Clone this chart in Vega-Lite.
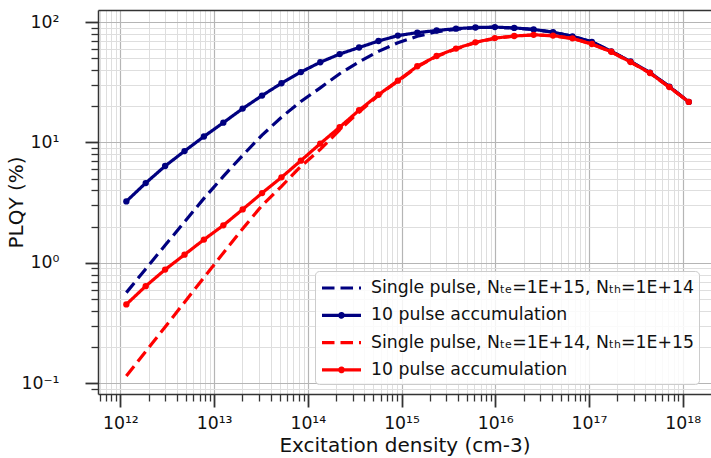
{
  "$schema": "https://vega.github.io/schema/vega-lite/v6.json",
  "width": 613,
  "height": 384,
  "autosize": {"type": "none"},
  "padding": {"left": 98, "top": 10, "right": 0, "bottom": 64},
  "background": "white",
  "config": {
    "font": "DejaVu Sans",
    "view": {"stroke": null},
    "axis": {"domainColor": "#333333", "domainWidth": 1.5, "tickColor": "#333333", "labelColor": "#111111", "titleColor": "#111111", "labelFont": "DejaVu Sans", "titleFont": "DejaVu Sans", "titleFontWeight": "normal"}
  },
  "datasets": {
    "curves": [
      {"density": 1.159e12, "plqy": 0.566, "series": "Single pulse, Nte=1E+15, Nth=1E+14"},
      {"density": 1.866e12, "plqy": 0.891, "series": "Single pulse, Nte=1E+15, Nth=1E+14"},
      {"density": 3.006e12, "plqy": 1.40, "series": "Single pulse, Nte=1E+15, Nth=1E+14"},
      {"density": 4.842e12, "plqy": 2.19, "series": "Single pulse, Nte=1E+15, Nth=1E+14"},
      {"density": 7.798e12, "plqy": 3.43, "series": "Single pulse, Nte=1E+15, Nth=1E+14"},
      {"density": 1.256e13, "plqy": 5.23, "series": "Single pulse, Nte=1E+15, Nth=1E+14"},
      {"density": 2.018e13, "plqy": 7.81, "series": "Single pulse, Nte=1E+15, Nth=1E+14"},
      {"density": 3.251e13, "plqy": 11.5, "series": "Single pulse, Nte=1E+15, Nth=1E+14"},
      {"density": 5.236e13, "plqy": 16.2, "series": "Single pulse, Nte=1E+15, Nth=1E+14"},
      {"density": 8.433e13, "plqy": 21.9, "series": "Single pulse, Nte=1E+15, Nth=1E+14"},
      {"density": 1.358e14, "plqy": 28.4, "series": "Single pulse, Nte=1E+15, Nth=1E+14"},
      {"density": 2.188e14, "plqy": 37.2, "series": "Single pulse, Nte=1E+15, Nth=1E+14"},
      {"density": 3.524e14, "plqy": 46.7, "series": "Single pulse, Nte=1E+15, Nth=1E+14"},
      {"density": 5.675e14, "plqy": 57.1, "series": "Single pulse, Nte=1E+15, Nth=1E+14"},
      {"density": 9.141e14, "plqy": 67.2, "series": "Single pulse, Nte=1E+15, Nth=1E+14"},
      {"density": 1.472e15, "plqy": 76.1, "series": "Single pulse, Nte=1E+15, Nth=1E+14"},
      {"density": 2.366e15, "plqy": 82.9, "series": "Single pulse, Nte=1E+15, Nth=1E+14"},
      {"density": 3.811e15, "plqy": 87.0, "series": "Single pulse, Nte=1E+15, Nth=1E+14"},
      {"density": 6.138e15, "plqy": 89.6, "series": "Single pulse, Nte=1E+15, Nth=1E+14"},
      {"density": 9.886e15, "plqy": 90.5, "series": "Single pulse, Nte=1E+15, Nth=1E+14"},
      {"density": 1.592e16, "plqy": 89.2, "series": "Single pulse, Nte=1E+15, Nth=1E+14"},
      {"density": 2.564e16, "plqy": 86.7, "series": "Single pulse, Nte=1E+15, Nth=1E+14"},
      {"density": 4.130e16, "plqy": 82.3, "series": "Single pulse, Nte=1E+15, Nth=1E+14"},
      {"density": 6.653e16, "plqy": 76.0, "series": "Single pulse, Nte=1E+15, Nth=1E+14"},
      {"density": 1.072e17, "plqy": 68.4, "series": "Single pulse, Nte=1E+15, Nth=1E+14"},
      {"density": 1.726e17, "plqy": 57.0, "series": "Single pulse, Nte=1E+15, Nth=1E+14"},
      {"density": 2.773e17, "plqy": 46.9, "series": "Single pulse, Nte=1E+15, Nth=1E+14"},
      {"density": 4.467e17, "plqy": 37.9, "series": "Single pulse, Nte=1E+15, Nth=1E+14"},
      {"density": 7.194e17, "plqy": 29.0, "series": "Single pulse, Nte=1E+15, Nth=1E+14"},
      {"density": 1.159e18, "plqy": 21.7, "series": "Single pulse, Nte=1E+15, Nth=1E+14"},

      {"density": 1.159e12, "plqy": 3.24, "series": "10 pulse accumulation, Nte=1E+15"},
      {"density": 1.866e12, "plqy": 4.6, "series": "10 pulse accumulation, Nte=1E+15"},
      {"density": 3.006e12, "plqy": 6.37, "series": "10 pulse accumulation, Nte=1E+15"},
      {"density": 4.842e12, "plqy": 8.48, "series": "10 pulse accumulation, Nte=1E+15"},
      {"density": 7.798e12, "plqy": 11.2, "series": "10 pulse accumulation, Nte=1E+15"},
      {"density": 1.256e13, "plqy": 14.6, "series": "10 pulse accumulation, Nte=1E+15"},
      {"density": 2.018e13, "plqy": 19.1, "series": "10 pulse accumulation, Nte=1E+15"},
      {"density": 3.251e13, "plqy": 24.5, "series": "10 pulse accumulation, Nte=1E+15"},
      {"density": 5.236e13, "plqy": 31.0, "series": "10 pulse accumulation, Nte=1E+15"},
      {"density": 8.433e13, "plqy": 38.4, "series": "10 pulse accumulation, Nte=1E+15"},
      {"density": 1.358e14, "plqy": 46.3, "series": "10 pulse accumulation, Nte=1E+15"},
      {"density": 2.188e14, "plqy": 54.2, "series": "10 pulse accumulation, Nte=1E+15"},
      {"density": 3.524e14, "plqy": 61.4, "series": "10 pulse accumulation, Nte=1E+15"},
      {"density": 5.675e14, "plqy": 69.5, "series": "10 pulse accumulation, Nte=1E+15"},
      {"density": 9.141e14, "plqy": 77.1, "series": "10 pulse accumulation, Nte=1E+15"},
      {"density": 1.472e15, "plqy": 81.6, "series": "10 pulse accumulation, Nte=1E+15"},
      {"density": 2.366e15, "plqy": 85.0, "series": "10 pulse accumulation, Nte=1E+15"},
      {"density": 3.811e15, "plqy": 88.1, "series": "10 pulse accumulation, Nte=1E+15"},
      {"density": 6.138e15, "plqy": 90.0, "series": "10 pulse accumulation, Nte=1E+15"},
      {"density": 9.886e15, "plqy": 90.7, "series": "10 pulse accumulation, Nte=1E+15"},
      {"density": 1.592e16, "plqy": 89.3, "series": "10 pulse accumulation, Nte=1E+15"},
      {"density": 2.564e16, "plqy": 86.8, "series": "10 pulse accumulation, Nte=1E+15"},
      {"density": 4.130e16, "plqy": 82.4, "series": "10 pulse accumulation, Nte=1E+15"},
      {"density": 6.653e16, "plqy": 76.1, "series": "10 pulse accumulation, Nte=1E+15"},
      {"density": 1.072e17, "plqy": 68.5, "series": "10 pulse accumulation, Nte=1E+15"},
      {"density": 1.726e17, "plqy": 57.1, "series": "10 pulse accumulation, Nte=1E+15"},
      {"density": 2.773e17, "plqy": 47.0, "series": "10 pulse accumulation, Nte=1E+15"},
      {"density": 4.467e17, "plqy": 38.0, "series": "10 pulse accumulation, Nte=1E+15"},
      {"density": 7.194e17, "plqy": 29.1, "series": "10 pulse accumulation, Nte=1E+15"},
      {"density": 1.159e18, "plqy": 21.7, "series": "10 pulse accumulation, Nte=1E+15"},

      {"density": 1.159e12, "plqy": 0.115, "series": "Single pulse, Nte=1E+14, Nth=1E+15"},
      {"density": 1.866e12, "plqy": 0.184, "series": "Single pulse, Nte=1E+14, Nth=1E+15"},
      {"density": 3.006e12, "plqy": 0.294, "series": "Single pulse, Nte=1E+14, Nth=1E+15"},
      {"density": 4.842e12, "plqy": 0.471, "series": "Single pulse, Nte=1E+14, Nth=1E+15"},
      {"density": 7.798e12, "plqy": 0.754, "series": "Single pulse, Nte=1E+14, Nth=1E+15"},
      {"density": 1.256e13, "plqy": 1.21, "series": "Single pulse, Nte=1E+14, Nth=1E+15"},
      {"density": 2.018e13, "plqy": 1.92, "series": "Single pulse, Nte=1E+14, Nth=1E+15"},
      {"density": 3.251e13, "plqy": 3.00, "series": "Single pulse, Nte=1E+14, Nth=1E+15"},
      {"density": 5.236e13, "plqy": 4.32, "series": "Single pulse, Nte=1E+14, Nth=1E+15"},
      {"density": 8.433e13, "plqy": 6.33, "series": "Single pulse, Nte=1E+14, Nth=1E+15"},
      {"density": 1.358e14, "plqy": 8.76, "series": "Single pulse, Nte=1E+14, Nth=1E+15"},
      {"density": 2.188e14, "plqy": 12.7, "series": "Single pulse, Nte=1E+14, Nth=1E+15"},
      {"density": 3.524e14, "plqy": 17.9, "series": "Single pulse, Nte=1E+14, Nth=1E+15"},
      {"density": 5.675e14, "plqy": 24.6, "series": "Single pulse, Nte=1E+14, Nth=1E+15"},
      {"density": 9.141e14, "plqy": 32.3, "series": "Single pulse, Nte=1E+14, Nth=1E+15"},
      {"density": 1.472e15, "plqy": 42.5, "series": "Single pulse, Nte=1E+14, Nth=1E+15"},
      {"density": 2.366e15, "plqy": 51.8, "series": "Single pulse, Nte=1E+14, Nth=1E+15"},
      {"density": 3.811e15, "plqy": 59.8, "series": "Single pulse, Nte=1E+14, Nth=1E+15"},
      {"density": 6.138e15, "plqy": 67.4, "series": "Single pulse, Nte=1E+14, Nth=1E+15"},
      {"density": 9.886e15, "plqy": 73.2, "series": "Single pulse, Nte=1E+14, Nth=1E+15"},
      {"density": 1.592e16, "plqy": 76.2, "series": "Single pulse, Nte=1E+14, Nth=1E+15"},
      {"density": 2.564e16, "plqy": 78.0, "series": "Single pulse, Nte=1E+14, Nth=1E+15"},
      {"density": 4.130e16, "plqy": 76.8, "series": "Single pulse, Nte=1E+14, Nth=1E+15"},
      {"density": 6.653e16, "plqy": 72.9, "series": "Single pulse, Nte=1E+14, Nth=1E+15"},
      {"density": 1.072e17, "plqy": 65.4, "series": "Single pulse, Nte=1E+14, Nth=1E+15"},
      {"density": 1.726e17, "plqy": 56.4, "series": "Single pulse, Nte=1E+14, Nth=1E+15"},
      {"density": 2.773e17, "plqy": 46.4, "series": "Single pulse, Nte=1E+14, Nth=1E+15"},
      {"density": 4.467e17, "plqy": 37.6, "series": "Single pulse, Nte=1E+14, Nth=1E+15"},
      {"density": 7.194e17, "plqy": 28.7, "series": "Single pulse, Nte=1E+14, Nth=1E+15"},
      {"density": 1.159e18, "plqy": 21.7, "series": "Single pulse, Nte=1E+14, Nth=1E+15"},

      {"density": 1.159e12, "plqy": 0.452, "series": "10 pulse accumulation, Nte=1E+14"},
      {"density": 1.866e12, "plqy": 0.641, "series": "10 pulse accumulation, Nte=1E+14"},
      {"density": 3.006e12, "plqy": 0.879, "series": "10 pulse accumulation, Nte=1E+14"},
      {"density": 4.842e12, "plqy": 1.17, "series": "10 pulse accumulation, Nte=1E+14"},
      {"density": 7.798e12, "plqy": 1.56, "series": "10 pulse accumulation, Nte=1E+14"},
      {"density": 1.256e13, "plqy": 2.05, "series": "10 pulse accumulation, Nte=1E+14"},
      {"density": 2.018e13, "plqy": 2.78, "series": "10 pulse accumulation, Nte=1E+14"},
      {"density": 3.251e13, "plqy": 3.80, "series": "10 pulse accumulation, Nte=1E+14"},
      {"density": 5.236e13, "plqy": 5.13, "series": "10 pulse accumulation, Nte=1E+14"},
      {"density": 8.433e13, "plqy": 7.06, "series": "10 pulse accumulation, Nte=1E+14"},
      {"density": 1.358e14, "plqy": 9.78, "series": "10 pulse accumulation, Nte=1E+14"},
      {"density": 2.188e14, "plqy": 13.4, "series": "10 pulse accumulation, Nte=1E+14"},
      {"density": 3.524e14, "plqy": 18.5, "series": "10 pulse accumulation, Nte=1E+14"},
      {"density": 5.675e14, "plqy": 24.9, "series": "10 pulse accumulation, Nte=1E+14"},
      {"density": 9.141e14, "plqy": 32.6, "series": "10 pulse accumulation, Nte=1E+14"},
      {"density": 1.472e15, "plqy": 42.9, "series": "10 pulse accumulation, Nte=1E+14"},
      {"density": 2.366e15, "plqy": 52.2, "series": "10 pulse accumulation, Nte=1E+14"},
      {"density": 3.811e15, "plqy": 60.2, "series": "10 pulse accumulation, Nte=1E+14"},
      {"density": 6.138e15, "plqy": 67.8, "series": "10 pulse accumulation, Nte=1E+14"},
      {"density": 9.886e15, "plqy": 73.5, "series": "10 pulse accumulation, Nte=1E+14"},
      {"density": 1.592e16, "plqy": 76.5, "series": "10 pulse accumulation, Nte=1E+14"},
      {"density": 2.564e16, "plqy": 78.3, "series": "10 pulse accumulation, Nte=1E+14"},
      {"density": 4.130e16, "plqy": 77.1, "series": "10 pulse accumulation, Nte=1E+14"},
      {"density": 6.653e16, "plqy": 73.2, "series": "10 pulse accumulation, Nte=1E+14"},
      {"density": 1.072e17, "plqy": 65.7, "series": "10 pulse accumulation, Nte=1E+14"},
      {"density": 1.726e17, "plqy": 56.6, "series": "10 pulse accumulation, Nte=1E+14"},
      {"density": 2.773e17, "plqy": 46.5, "series": "10 pulse accumulation, Nte=1E+14"},
      {"density": 4.467e17, "plqy": 37.7, "series": "10 pulse accumulation, Nte=1E+14"},
      {"density": 7.194e17, "plqy": 28.8, "series": "10 pulse accumulation, Nte=1E+14"},
      {"density": 1.159e18, "plqy": 21.7, "series": "10 pulse accumulation, Nte=1E+14"}
    ]
  },
  "data": {"name": "curves"},
  "encoding": {
    "x": {
      "field": "density", "type": "quantitative",
      "scale": {"type": "log", "domain": [5.78e11, 2.0e18], "nice": false},
      "axis": {
        "orient": "bottom",
        "title": "Excitation density (cm-3)",
        "titleFontSize": 20,
        "titlePadding": 4,
        "labelFontSize": 17.3,
        "labelPadding": 7,
        "values": [6e11, 7e11, 8e11, 9e11, 1e12, 2e12, 3e12, 4e12, 5e12, 6e12, 7e12, 8e12, 9e12, 1e13, 2e13, 3e13, 4e13, 5e13, 6e13, 7e13, 8e13, 9e13, 1e14, 2e14, 3e14, 4e14, 5e14, 6e14, 7e14, 8e14, 9e14, 1e15, 2e15, 3e15, 4e15, 5e15, 6e15, 7e15, 8e15, 9e15, 1e16, 2e16, 3e16, 4e16, 5e16, 6e16, 7e16, 8e16, 9e16, 1e17, 2e17, 3e17, 4e17, 5e17, 6e17, 7e17, 8e17, 9e17, 1e18],
        "labelExpr": "datum.value == 1e12 ? '10¹²' : datum.value == 1e13 ? '10¹³' : datum.value == 1e14 ? '10¹⁴' : datum.value == 1e15 ? '10¹⁵' : datum.value == 1e16 ? '10¹⁶' : datum.value == 1e17 ? '10¹⁷' : datum.value == 1e18 ? '10¹⁸' : ''",
        "grid": true,
        "gridColor": {"condition": {"test": "indexof([1e12,1e13,1e14,1e15,1e16,1e17,1e18], datum.value) >= 0", "value": "#b5b5b5"}, "value": "#dedede"},
        "gridWidth": {"condition": {"test": "indexof([1e12,1e13,1e14,1e15,1e16,1e17,1e18], datum.value) >= 0", "value": 1.2}, "value": 1},
        "tickSize": {"condition": {"test": "indexof([1e12,1e13,1e14,1e15,1e16,1e17,1e18], datum.value) >= 0", "value": 13}, "value": 7},
        "tickWidth": {"condition": {"test": "indexof([1e12,1e13,1e14,1e15,1e16,1e17,1e18], datum.value) >= 0", "value": 1.8}, "value": 1.3},
        "labelFlush": false,
        "labelOverlap": false
      }
    },
    "y": {
      "field": "plqy", "type": "quantitative",
      "scale": {"type": "log", "domain": [0.0815, 125.8], "nice": false},
      "axis": {
        "title": "PLQY (%)",
        "titleFontSize": 20,
        "titlePadding": -6,
        "labelFontSize": 17.3,
        "labelPadding": 26,
        "values": [0.09, 0.1, 0.2, 0.3, 0.4, 0.5, 0.6, 0.7, 0.8, 0.9, 1, 2, 3, 4, 5, 6, 7, 8, 9, 10, 20, 30, 40, 50, 60, 70, 80, 90, 100],
        "labelExpr": "datum.value == 0.1 ? '10⁻¹' : datum.value == 1 ? '10⁰' : datum.value == 10 ? '10¹' : datum.value == 100 ? '10²' : ''",
        "grid": true,
        "gridColor": {"condition": {"test": "indexof([0.1,1,10,100], datum.value) >= 0", "value": "#b5b5b5"}, "value": "#dedede"},
        "gridWidth": {"condition": {"test": "indexof([0.1,1,10,100], datum.value) >= 0", "value": 1.2}, "value": 1},
        "tickSize": {"condition": {"test": "indexof([0.1,1,10,100], datum.value) >= 0", "value": 13}, "value": 7},
        "tickWidth": {"condition": {"test": "indexof([0.1,1,10,100], datum.value) >= 0", "value": 1.8}, "value": 1.3},
        "labelFlush": false,
        "labelOverlap": false
      }
    },
    "color": {
      "field": "series", "type": "nominal",
      "scale": {
        "domain": ["Single pulse, Nte=1E+15, Nth=1E+14", "10 pulse accumulation, Nte=1E+15", "Single pulse, Nte=1E+14, Nth=1E+15", "10 pulse accumulation, Nte=1E+14"],
        "range": ["#000080", "#000080", "#ff0000", "#ff0000"]
      },
      "legend": {
        "title": null,
        "orient": "none",
        "legendX": 217,
        "legendY": 261,
        "padding": 5,
        "fillColor": "rgba(255,255,255,0.85)",
        "strokeColor": "#cccccc",
        "cornerRadius": 4,
        "labelFontSize": 17.3,
        "labelFont": "DejaVu Sans",
        "labelColor": "#111111",
        "labelLimit": 400,
        "labelOffset": 27,
        "symbolSize": 400,
        "symbolStrokeWidth": 3.2,
        "rowPadding": 6.3,
        "labelExpr": "indexof(datum.label, '10 pulse') == 0 ? '10 pulse accumulation' : replace(replace(datum.label, 'Nte', 'Nₜₑ'), 'Nth', 'Nₜₕ')",
        "encode": {
          "symbols": {
            "update": {
              "shape": {"signal": "indexof(datum.value, '10 pulse') == 0 ? 'M-1,0H2.9M0.77,0A0.18,0.18 0 1,1 1.13,0A0.18,0.18 0 1,1 0.77,0Z' : 'M-1,0H2.9'"},
              "fill": {"signal": "indexof(datum.value, '10 pulse') == 0 ? (indexof(datum.value, '1E+15') > 0 ? '#000080' : '#ff0000') : 'transparent'"}
            }
          }
        }
      }
    },
    "strokeDash": {
      "field": "series", "type": "nominal",
      "scale": {
        "domain": ["Single pulse, Nte=1E+15, Nth=1E+14", "10 pulse accumulation, Nte=1E+15", "Single pulse, Nte=1E+14, Nth=1E+15", "10 pulse accumulation, Nte=1E+14"],
        "range": [[12.5, 6], [1, 0], [12.5, 6], [1, 0]]
      }
    }
  },
  "layer": [
    {
      "transform": [{"filter": "datum.series == 'Single pulse, Nte=1E+15, Nth=1E+14'"}],
      "mark": {"type": "line", "strokeWidth": 3.2}
    },
    {
      "transform": [{"filter": "datum.series == '10 pulse accumulation, Nte=1E+15'"}],
      "mark": {"type": "line", "strokeWidth": 3.2, "point": {"filled": true, "size": 40}},
      "encoding": {
        "x": {
          "field": "density", "type": "quantitative",
          "scale": {"type": "log", "domain": [5.78e11, 2.0e18], "nice": false},
          "axis": {"orient": "top", "labels": false, "ticks": false, "grid": false, "domain": true, "title": null}
        }
      }
    },
    {
      "transform": [{"filter": "datum.series == 'Single pulse, Nte=1E+14, Nth=1E+15'"}],
      "mark": {"type": "line", "strokeWidth": 3.2},
      "encoding": {
        "x": {
          "field": "density", "type": "quantitative",
          "scale": {"type": "log", "domain": [5.78e11, 2.0e18], "nice": false},
          "axis": null
        }
      }
    },
    {
      "transform": [{"filter": "datum.series == '10 pulse accumulation, Nte=1E+14'"}],
      "mark": {"type": "line", "strokeWidth": 3.2, "point": {"filled": true, "size": 40}},
      "encoding": {
        "x": {
          "field": "density", "type": "quantitative",
          "scale": {"type": "log", "domain": [5.78e11, 2.0e18], "nice": false},
          "axis": null
        }
      }
    }
  ],
  "resolve": {"axis": {"x": "independent"}}
}
